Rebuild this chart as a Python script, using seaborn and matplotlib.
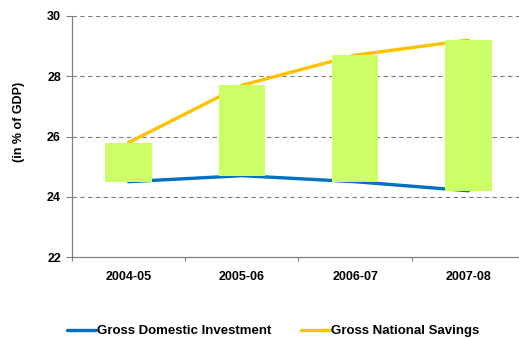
import matplotlib
matplotlib.use("Agg")
import matplotlib.pyplot as plt
import seaborn as sns
import pandas as pd
from matplotlib.lines import Line2D

# Data (in % of GDP)
years = ["2004-05", "2005-06", "2006-07", "2007-08"]
investment = [24.5, 24.7, 24.5, 24.2]
savings = [25.8, 27.7, 28.7, 29.2]
y_ticks = [22, 24, 26, 28, 30]

BLUE = "#0070C0"
ORANGE = "#FFC000"
GREEN = "#CCFF66"
GRAY = "#808080"

sns.set_theme(style="white")
plt.rcParams["font.family"] = ["Liberation Sans", "DejaVu Sans"]
plt.rcParams["font.weight"] = "bold"
plt.rcParams["text.color"] = "black"
plt.rcParams["xtick.color"] = "black"
plt.rcParams["ytick.color"] = "black"
plt.rcParams["axes.labelcolor"] = "black"

df = pd.DataFrame({
    "year": years * 2,
    "value": investment + savings,
    "series": ["Gross Domestic Investment"] * 4 + ["Gross National Savings"] * 4,
})

fig = plt.figure(figsize=(5.19, 3.39), dpi=100)
ax = fig.add_axes([72 / 519, 82 / 339, 453 / 519, 241 / 339])

sns.lineplot(data=df, x="year", y="value", hue="series",
             palette=[BLUE, ORANGE], linewidth=2.4, ax=ax,
             legend=False, zorder=2, sort=False)

# floating bars spanning the savings-investment gap
xpos = range(len(years))
gap = [s - i for s, i in zip(savings, investment)]
ax.bar(xpos, gap, bottom=investment, width=0.41, color=GREEN,
       edgecolor="none", zorder=3)

ax.set_xlim(-0.5, 3.5)
ax.set_ylim(22, 30)
ax.set_yticks(y_ticks)
ax.set_yticklabels([str(t) for t in y_ticks], fontsize=9, fontweight="bold")
ax.set_xticks(list(xpos))
ax.set_xticklabels(years, fontsize=9, fontweight="bold")
ax.tick_params(axis="x", length=0, pad=10, labelcolor="black")
ax.tick_params(axis="y", length=4, width=0.8, color=GRAY, pad=4, left=True,
               labelcolor="black")

# category boundary tick marks on the x axis
ax.set_xticks([-0.5, 0.5, 1.5, 2.5], minor=True)
ax.tick_params(axis="x", which="minor", length=3, width=0.8, color=GRAY, bottom=True)

for y in y_ticks[1:]:
    ax.axhline(y, color=GRAY, linestyle=(0, (4, 3)), linewidth=0.8, zorder=1)

for side in ["top", "right"]:
    ax.spines[side].set_visible(False)
for side in ["left", "bottom"]:
    ax.spines[side].set_color(GRAY)
    ax.spines[side].set_linewidth(0.9)

ax.set_xlabel("")
ax.set_ylabel("(in % of GDP)", fontsize=9, fontweight="bold", color="black")
ax.yaxis.set_label_coords(-0.103, 0.56)

handles = [Line2D([], [], color=BLUE, linewidth=2.4),
           Line2D([], [], color=ORANGE, linewidth=2.4)]
fig.legend(handles, ["Gross Domestic Investment", "Gross National Savings"],
           loc="center", bbox_to_anchor=(273 / 519, 1 - 331 / 339), ncol=2,
           frameon=False, handlelength=2.2, handletextpad=0.1,
           columnspacing=2.2, prop={"weight": "bold", "size": 9.5})

fig.savefig("out.png", dpi=100)
